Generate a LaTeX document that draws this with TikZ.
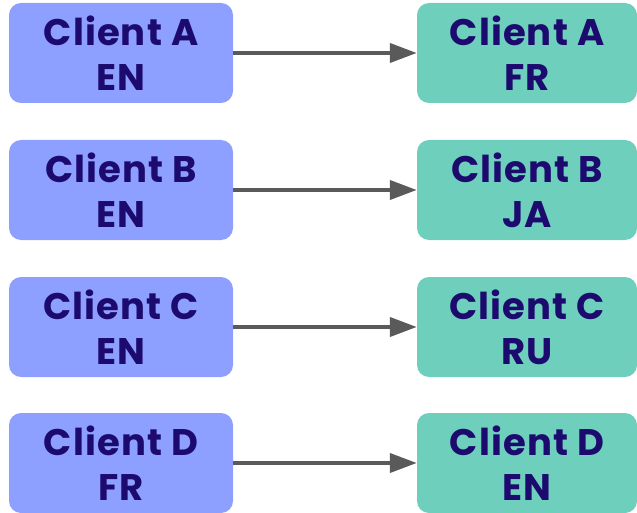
\documentclass[tikz,border=0pt]{standalone}
\usepackage{fontspec}
\setmainfont{Poppins}[LetterSpace=3]
\usetikzlibrary{arrows.meta}
\definecolor{srcfill}{HTML}{8D9FFF}
\definecolor{dstfill}{HTML}{6ECFBD}
\definecolor{ink}{HTML}{1C0A6E}
\definecolor{wire}{HTML}{5A5A5A}
\begin{document}
\begin{tikzpicture}[x=1pt, y=-1pt]
    \tikzset{src/.style={fill=srcfill, rounded corners=12pt, minimum width=224pt, minimum height=100pt,
        align=center, text=ink, font=\fontsize{37}{45}\selectfont\bfseries, inner sep=0pt},
      dst/.style={src, fill=dstfill, minimum width=220pt},
      link/.style={draw=wire, line width=4pt, -{Triangle[length=27pt, width=19pt]}}}
    \useasboundingbox (0,0) rectangle (637,513);
    % source clients (left)
    \node[src] (srcA) at (121,53) {Client A\\EN};
    \node[src] (srcB) at (121,190) {Client B\\EN};
    \node[src] (srcC) at (121,327) {Client C\\EN};
    \node[src] (srcD) at (121,463) {Client D\\FR};
    % target clients (right)
    \node[dst] (dstA) at (527,53) {Client A\\FR};
    \node[dst] (dstB) at (527,190) {Client B\\JA};
    \node[dst] (dstC) at (527,327) {Client C\\RU};
    \node[dst] (dstD) at (527,463) {Client D\\EN};
    % translations
    \draw[link] (srcA) -- (dstA);
    \draw[link] (srcB) -- (dstB);
    \draw[link] (srcC) -- (dstC);
    \draw[link] (srcD) -- (dstD);
  \end{tikzpicture}
\end{document}
